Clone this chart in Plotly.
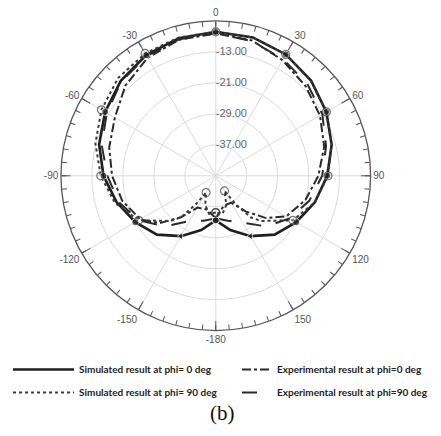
import plotly.graph_objects as go

# ---------------- data (dB) ----------------
theta_sim0 = [-180, -165, -150, -135, -120, -105, -90, -75, -60, -45, -30, -15, 0,
              15, 30, 45, 60, 75, 90, 105, 120, 135, 150, 165, 180]
r_sim0 = [-33.5, -30.5, -27.0, -23.5, -21.0, -18.5, -16.0, -13.8, -12.0, -10.3, -9.0, -8.2, -7.8,
          -8.0, -8.8, -10.2, -12.0, -14.0, -16.2, -18.5, -21.0, -23.5, -27.0, -30.5, -33.5]

theta_sim90 = [-180, -170, -160, -150, -145, -140, -135, -120, -105, -90, -75, -60, -45, -30, -15, 0,
               15, 30, 45, 60, 75, 90, 105, 120, 135, 140, 145, 150, 160, 170, 180]
r_sim90 = [-35.5, -35.0, -37.0, -40.0, -36.0, -31.0, -28.5, -22.0, -18.0, -15.3, -12.8, -10.9, -9.3, -8.5, -8.0, -7.8,
           -8.0, -8.8, -10.3, -12.0, -14.0, -16.0, -18.5, -22.0, -28.5, -31.0, -36.0, -40.5, -37.0, -35.0, -35.5]

theta_exp0 = [-180, -165, -150, -140, -130, -120, -105, -90, -75, -60, -45, -30, -15, 0,
              15, 30, 45, 60, 75, 90, 105, 120, 130, 140, 150, 165, 180]
r_exp0 = [-34.0, -36.0, -35.5, -31.0, -26.0, -22.5, -20.0, -18.2, -16.5, -14.9, -12.0, -9.8, -8.6, -8.2,
          -8.8, -10.5, -12.2, -13.9, -16.0, -18.5, -21.0, -24.0, -28.0, -33.0, -37.0, -37.0, -34.0]

theta_exp90 = [-180, -165, -150, -135, -120, -105, -90, -75, -60, -45, -30, -15, 0,
               15, 30, 45, 60, 75, 90, 105, 120, 135, 150, 165, 180]
r_exp90 = [-34.0, -33.0, -31.5, -26.5, -22.0, -19.0, -17.0, -14.5, -12.5, -10.5, -9.3, -8.5, -8.2,
           -9.0, -10.2, -11.5, -13.2, -15.5, -17.5, -20.0, -23.0, -26.5, -31.0, -33.0, -34.0]

series_names = ["Simulated result at phi= 0 deg", "Experimental result at phi=0 deg",
                "Simulated result at phi= 90 deg", "Experimental result at phi=90 deg"]

angle_tickvals = list(range(0, 360, 30))
angle_ticktext = ["0", "30", "60", "90", "120", "150", "-180", "-150", "-120", "-90", "-60", "-30"]
radial_tickvals = [-37, -29, -21, -13]
radial_ticktext = ["-37.00", "-29.00", "-21.00", "-13.00"]
radial_range = [-45, -5]

# marker styling helpers (markers every 30 deg)
def marker_sizes(thetas, size):
    return [size if t % 30 == 0 else 0 for t in thetas]

sim0_symbols = ["triangle-left" if abs(t) == 150 else "circle" for t in theta_sim0]

fig = go.Figure()

# radial tick labels placed on the 0-degree spoke, right of the axis
fig.add_trace(go.Scatterpolar(
    r=radial_tickvals, theta=[0] * len(radial_tickvals), mode="text", text=radial_ticktext,
    textposition="middle right", textfont=dict(size=11, color="#666"),
    showlegend=False, hoverinfo="skip",
))

# lines (shown in the legends)
fig.add_trace(go.Scatterpolar(
    r=r_sim0, theta=theta_sim0, mode="lines", name=series_names[0],
    line=dict(color="#1e1e1e", width=2.6), legend="legend", legendgroup="a",
))
fig.add_trace(go.Scatterpolar(
    r=r_exp0, theta=theta_exp0, mode="lines", name=series_names[1],
    line=dict(color="#2a2a2a", width=2, dash="dashdot"), legend="legend2", legendgroup="c",
))
fig.add_trace(go.Scatterpolar(
    r=r_sim90, theta=theta_sim90, mode="lines", name=series_names[2],
    line=dict(color="#3a3a3a", width=2, dash="dot"), legend="legend", legendgroup="b",
))
fig.add_trace(go.Scatterpolar(
    r=r_exp90, theta=theta_exp90, mode="lines", name=series_names[3],
    line=dict(color="#2a2a2a", width=2, dash="longdash"), legend="legend2", legendgroup="d",
))
# markers every 30 degrees on the simulated curves
fig.add_trace(go.Scatterpolar(
    r=r_sim0, theta=theta_sim0, mode="markers", showlegend=False, legendgroup="a",
    marker=dict(size=marker_sizes(theta_sim0, 7), symbol=sim0_symbols, color="#1e1e1e"),
))
fig.add_trace(go.Scatterpolar(
    r=r_sim90, theta=theta_sim90, mode="markers", showlegend=False, legendgroup="b",
    marker=dict(size=marker_sizes(theta_sim90, 8), symbol="circle-open", color="#3a3a3a",
                line=dict(width=1.2)),
))
# helper trace so the minor-tick polar subplot is drawn
fig.add_trace(go.Scatterpolar(r=[None], theta=[None], subplot="polar2", showlegend=False,
                              hoverinfo="skip"))

W, H = 425, 420  # page adds an 8px body margin on every side
cx, cy, rad = 205.7, 167.8, 156.3
dom_x = [(cx - rad) / W, (cx + rad) / W]
dom_y = [1 - (cy + rad) / H, 1 - (cy - rad) / H]

legend_font = dict(size=10, color="#222", family="Lato, Arial, sans-serif", weight="bold")

fig.update_layout(
    width=W, height=H,
    margin=dict(l=0, r=0, t=0, b=0),
    paper_bgcolor="white",
    font=dict(family="Arial, Liberation Sans, sans-serif", color="#444"),
    polar=dict(
        domain=dict(x=dom_x, y=dom_y),
        bgcolor="white",
        angularaxis=dict(
            rotation=90, direction="clockwise",
            tickmode="array", tickvals=angle_tickvals, ticktext=angle_ticktext,
            ticks="inside", ticklen=9, tickcolor="#555", tickwidth=1,
            showline=True, linecolor="#555", linewidth=1.3,
            showgrid=True, gridcolor="#dcdcdc", gridwidth=1,
            tickfont=dict(size=10, color="#555"),
        ),
        radialaxis=dict(
            range=radial_range, tickmode="array", tickvals=radial_tickvals,
            showticklabels=False, showline=False, ticks="", angle=90,
            showgrid=True, gridcolor="#dcdcdc", gridwidth=1,
        ),
    ),
    polar2=dict(
        domain=dict(x=dom_x, y=dom_y),
        bgcolor="rgba(0,0,0,0)",
        angularaxis=dict(
            rotation=90, direction="clockwise",
            tickmode="array", tickvals=list(range(0, 360, 5)), ticktext=[""] * 72,
            ticks="inside", ticklen=5, tickcolor="#555", tickwidth=1,
            showline=False, showgrid=False,
        ),
        radialaxis=dict(visible=False, range=radial_range),
    ),
    legend=dict(
        orientation="v", x=-4 / W, y=1 - 347 / H, xanchor="left", yanchor="top",
        font=legend_font, bgcolor="rgba(0,0,0,0)", itemwidth=61, tracegroupgap=4,
    ),
    legend2=dict(
        orientation="v", x=1.0, y=1 - 347 / H, xanchor="right", yanchor="top",
        font=legend_font, bgcolor="rgba(0,0,0,0)", itemwidth=30, tracegroupgap=4,
    ),
    annotations=[dict(
        text="(b)", x=212 / W, y=1 - 405 / H, xref="paper", yref="paper",
        xanchor="center", yanchor="middle", showarrow=False,
        font=dict(size=21, color="#111", family="Liberation Serif, DejaVu Serif, serif"),
    )],
)

fig.write_html("out.html")
